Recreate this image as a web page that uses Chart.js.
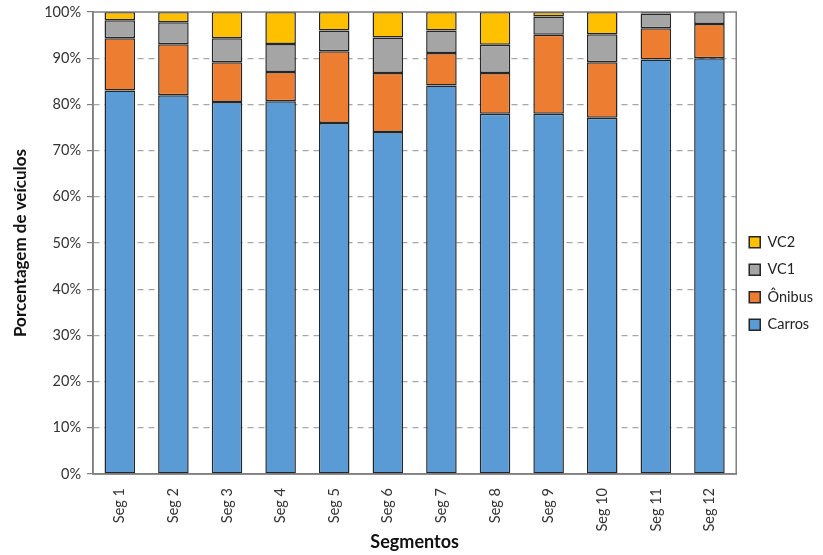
<!DOCTYPE html>
<html>
<head>
<meta charset="utf-8">
<script src="https://cdn.jsdelivr.net/npm/chart.js@4/dist/chart.umd.min.js"></script>
<style>
  html, body { margin: 0; padding: 0; background: #fff; }
  #wrap { width: 823px; height: 555px; }
</style>
</head>
<body>
<div id="wrap"><canvas id="c" width="823" height="555"></canvas></div>
<script>
// segment names
const segments = ['Seg 1','Seg 2','Seg 3','Seg 4','Seg 5','Seg 6','Seg 7','Seg 8','Seg 9','Seg 10','Seg 11','Seg 12'];
// share of vehicles per segment (%)
const carros = [83.0, 82.0, 80.5, 80.7, 76.0, 74.0, 84.1, 78.0, 78.0, 77.1, 89.7, 90.0];
const onibus = [11.3, 11.0, 8.6, 6.3, 15.5, 12.8, 7.0, 8.8, 17.1, 12.0, 6.8, 7.4];
const vc1 = [3.9, 4.8, 5.2, 6.1, 4.5, 7.7, 4.9, 6.1, 3.9, 6.1, 3.2, 2.6];
const vc2 = [1.8, 2.2, 5.7, 6.9, 4.0, 5.5, 4.0, 7.1, 1.0, 4.8, 0.3, 0.1];

const FONT = 'Lato, "Open Sans", sans-serif';
const edge = '#262626';

// box around the plot (top + right sides too)
const frame = {
  id: 'frame',
  afterDatasetsDraw(chart) {
    const { ctx, chartArea: a } = chart;
    ctx.save();
    ctx.strokeStyle = '#7f7f7f';
    ctx.lineWidth = 1.5;
    ctx.strokeRect(a.left, a.top, a.right - a.left, a.bottom - a.top);
    ctx.restore();
  }
};

const mk = (label, data, color) => ({
  label, data,
  backgroundColor: color,
  borderColor: edge,
  borderWidth: 1.5,
  borderSkipped: false,
  barPercentage: 0.57,
  categoryPercentage: 1.0
});

new Chart(document.getElementById('c'), {
  type: 'bar',
  data: {
    labels: segments,
    datasets: [
      mk('Carros', carros, '#5B9BD5'),
      mk('Ônibus', onibus, '#ED7D31'),
      mk('VC1', vc1, '#A5A5A5'),
      mk('VC2', vc2, '#FFC000')
    ]
  },
  options: {
    responsive: false,
    animation: false,
    layout: { padding: { top: 12, right: 0, left: 0, bottom: 0 } },
    scales: {
      x: {
        stacked: true,
        grid: { display: false },
        border: { display: true, color: '#7f7f7f', width: 1.5 },
        ticks: {
          minRotation: 90, maxRotation: 90,
          color: '#333', font: { family: FONT, size: 14.5 }, padding: 6
        },
        title: {
          display: true, text: 'Segmentos', color: '#111',
          font: { family: FONT, size: 18, weight: 'bold' }, padding: { top: 4, bottom: 2 }
        },
        afterFit: (s) => { s.height = 81; s.paddingLeft = 0; s.paddingRight = 0; }
      },
      y: {
        stacked: true,
        min: 0, max: 100,
        ticks: {
          stepSize: 10, color: '#333',
          font: { family: FONT, size: 14.5 },
          callback: (v) => v + '%', padding: 6
        },
        grid: {
          color: (c) => (c.tick.value === 0 || c.tick.value === 100) ? 'rgba(0,0,0,0)' : '#a6a6a6',
          tickColor: '#7f7f7f',
          tickLength: 6,
          tickBorderDash: [],
          lineWidth: 1.2
        },
        border: { display: true, color: '#7f7f7f', width: 1.5, dash: [6, 5] },
        title: {
          display: true, text: 'Porcentagem de veículos', color: '#111',
          font: { family: FONT, size: 17, weight: 'bold' }, padding: { top: 10, bottom: 6 }
        },
        afterFit: (s) => { s.width = 93; s.paddingTop = 0; s.paddingBottom = 0; }
      }
    },
    plugins: {
      legend: {
        position: 'right',
        reverse: true,
        labels: {
          boxWidth: 11, boxHeight: 11, padding: 13,
          color: '#222', font: { family: FONT, size: 14.5 }
        }
      },
      tooltip: { enabled: false }
    }
  },
  plugins: [frame]
});
</script>
</body>
</html>
